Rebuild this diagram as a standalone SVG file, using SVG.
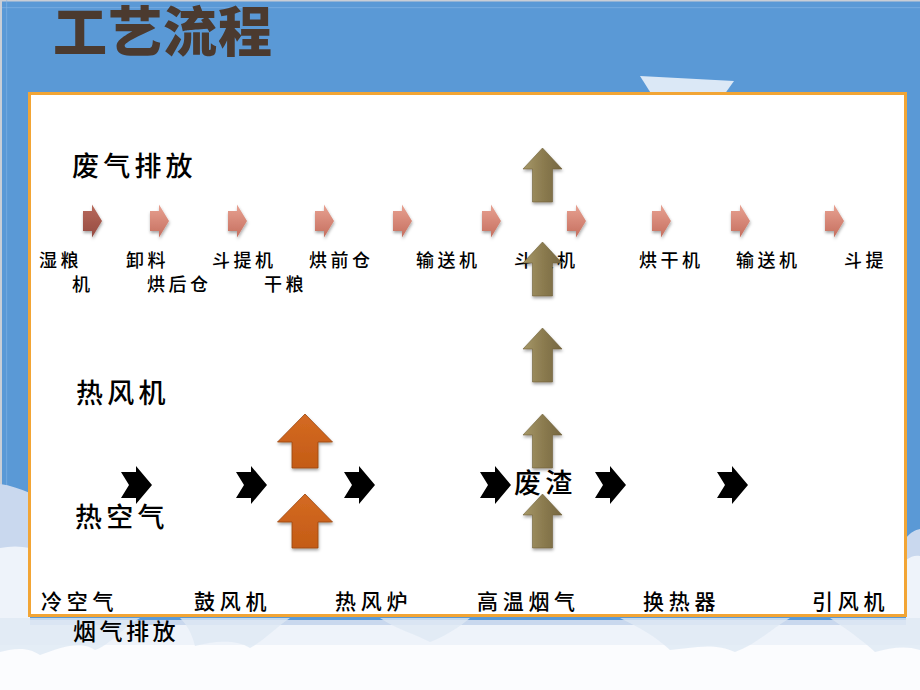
<svg xmlns="http://www.w3.org/2000/svg" width="920" height="690" viewBox="0 0 920 690">
<defs>
<style>
.lbl{font-family:'Noto Sans CJK SC','Noto Sans',sans-serif;fill:#000;font-weight:500;}
.s1{font-size:18px;letter-spacing:3.5px;}
.s2{font-size:27px;letter-spacing:4.2px;}
.s3{font-size:21px;letter-spacing:4.7px;}
.s4{font-size:23px;letter-spacing:3.5px;}
.title{font-family:'Noto Sans CJK SC','Noto Sans',sans-serif;font-size:54px;font-weight:900;fill:#4b3a2f;letter-spacing:1px;}
.pk{fill:url(#gPink);filter:url(#sh);}
.pk0{fill:url(#gPink0);filter:url(#sh);}
.bk{fill:#000;}
.ol{fill:url(#gOlive);stroke:#6e6038;stroke-width:0.6;filter:url(#sh);}
.or{fill:url(#gOrange);stroke:#9a4610;stroke-width:0.8;filter:url(#sh);}
.cl{fill:#dfe8f4;opacity:0.8;}
</style>
<linearGradient id="gPink" x1="0" y1="0" x2="0" y2="1"><stop offset="0" stop-color="#e8a292"/><stop offset="1" stop-color="#c56e5e"/></linearGradient>
<linearGradient id="gPink0" x1="0" y1="0" x2="0" y2="1"><stop offset="0" stop-color="#b86a5c"/><stop offset="1" stop-color="#954a40"/></linearGradient>
<linearGradient id="gOlive" x1="0" y1="0" x2="1" y2="0"><stop offset="0" stop-color="#a69868"/><stop offset="0.5" stop-color="#8c7c50"/><stop offset="1" stop-color="#756640"/></linearGradient>
<linearGradient id="gOrange" x1="0" y1="0" x2="0" y2="1"><stop offset="0" stop-color="#d46a22"/><stop offset="1" stop-color="#c45c16"/></linearGradient>
<filter id="sh" x="-40%" y="-30%" width="180%" height="170%"><feDropShadow dx="0.5" dy="2" stdDeviation="1.5" flood-color="#000" flood-opacity="0.35"/></filter>
<path id="pink" d="M0,-10 H9 V-16.5 L19,0 L9,16.5 V10 H0 Z"/>
<path id="blk" d="M0,6 H15 V0 L31,19 L15,38 V32 H0 L8,19 Z"/>
<path id="olive" d="M0,0 L19.5,21 H10 V54 H-10 V21 H-19.5 Z"/>
<path id="orng" d="M0,0 L27.5,28 H13 V54 H-13 V28 H-27.5 Z"/>
</defs>

<g id="background">
<rect x="0" y="0" width="920" height="690" fill="#5a99d6"/>
<rect x="0" y="0" width="920" height="1.5" fill="#c9ced6"/>
<rect x="0" y="7" width="920" height="1.2" fill="#7fb2e4" opacity="0.6"/>
<rect x="0" y="0" width="2" height="690" fill="#c9ced6"/>
<rect x="6" y="0" width="1.2" height="690" fill="#86b6e6" opacity="0.5"/>
<path d="M0,484 C10,485 20,489 30,493 L30,620 L906,620 L906,538 C911,532 915,530 920,529 L920,690 L0,690 Z" fill="#c9d8ee"/>
<path d="M0,548 C10,546 20,546 30,548 L30,625 L906,625 L906,560 C911,556 916,555 920,556 L920,690 L0,690 Z" fill="#eef3fa"/>
<rect x="0" y="645" width="920" height="45" fill="#fbfcfe"/>
<path class="cl" d="M0,618 H140 C120,630 110,645 95,650 C80,640 60,648 40,655 C25,645 10,650 0,652 Z"/>
<path class="cl" d="M180,618 H290 C275,628 265,640 250,648 C235,638 210,642 195,646 C192,634 188,626 180,618 Z"/>
<path class="cl" d="M380,618 H470 C458,628 445,636 430,642 C415,634 398,630 380,618 Z"/>
<path class="cl" d="M620,618 H790 C770,630 755,645 735,652 C715,642 690,648 670,650 C655,636 640,628 620,618 Z"/>
<path class="cl" d="M830,618 H920 V650 C905,645 890,648 875,652 C862,640 848,630 830,618 Z"/>
<polygon points="640,76 734,81 724,95 652,95" fill="#dbe8f6"/>
</g>

<g id="panel">
<rect x="29.5" y="93.5" width="876" height="522" fill="#ffffff" stroke="#f2a535" stroke-width="3"/>
</g>

<g id="title"><text class="title" x="53" y="52">工艺流程</text></g>

<g id="n-feiqi-paifang"><text class="lbl s2" x="72" y="176">废气排放</text></g>
<g id="n-shiliangji"><text class="lbl s1" x="39" y="267">湿粮</text><text class="lbl s1" x="72" y="291">机</text></g>
<g id="n-xieliao"><text class="lbl s1" x="126" y="267">卸料</text></g>
<g id="n-honghoucang"><text class="lbl s1" x="147" y="291">烘后仓</text></g>
<g id="n-doutiji-1"><text class="lbl s1" x="212" y="267">斗提机</text></g>
<g id="n-ganliang"><text class="lbl s1" x="264" y="291">干粮</text></g>
<g id="n-hongqiancang"><text class="lbl s1" x="309" y="267">烘前仓</text></g>
<g id="n-shusongji-1"><text class="lbl s1" x="416" y="267">输送机</text></g>
<g id="n-doutiji-2"><text class="lbl s1" x="514" y="267">斗提机</text></g>
<g id="n-honganji"><text class="lbl s1" x="639" y="267">烘干机</text></g>
<g id="n-shusongji-2"><text class="lbl s1" x="736" y="267">输送机</text></g>
<g id="n-douti-3"><text class="lbl s1" x="844" y="267">斗提</text></g>
<g id="n-refengji"><text class="lbl s2" x="76" y="403">热风机</text></g>
<g id="n-rekongqi"><text class="lbl s2" x="75" y="527">热空气</text></g>
<g id="n-feizha"><text class="lbl s2" x="514" y="493">废渣</text></g>
<g id="n-lengkongqi"><text class="lbl s3" x="41" y="609">冷空气</text></g>
<g id="n-gufengji"><text class="lbl s3" x="194" y="609">鼓风机</text></g>
<g id="n-refenglu"><text class="lbl s3" x="335" y="609">热风炉</text></g>
<g id="n-gaowenyanqi"><text class="lbl s3" x="477" y="609">高温烟气</text></g>
<g id="n-huanreqi"><text class="lbl s3" x="643" y="609">换热器</text></g>
<g id="n-yinfengji"><text class="lbl s3" x="812" y="609">引风机</text></g>
<g id="n-yanqi-paifang"><text class="lbl s4" x="73" y="640">烟气排放</text></g>

<g id="connectors">
<use href="#pink" class="pk0" transform="translate(83,221)"/>
<use href="#pink" class="pk" transform="translate(150,221)"/>
<use href="#pink" class="pk" transform="translate(228,221)"/>
<use href="#pink" class="pk" transform="translate(315,221)"/>
<use href="#pink" class="pk" transform="translate(393,221)"/>
<use href="#pink" class="pk" transform="translate(482,221)"/>
<use href="#pink" class="pk" transform="translate(567,221)"/>
<use href="#pink" class="pk" transform="translate(652,221)"/>
<use href="#pink" class="pk" transform="translate(731,221)"/>
<use href="#pink" class="pk" transform="translate(825,221)"/>

<use href="#blk" class="bk" transform="translate(121,466)"/>
<use href="#blk" class="bk" transform="translate(236,466)"/>
<use href="#blk" class="bk" transform="translate(344,466)"/>
<use href="#blk" class="bk" transform="translate(480,466)"/>
<use href="#blk" class="bk" transform="translate(595,466)"/>
<use href="#blk" class="bk" transform="translate(717,466)"/>

<use href="#olive" class="ol" transform="translate(542.5,148)"/>
<use href="#olive" class="ol" transform="translate(542.5,242)"/>
<use href="#olive" class="ol" transform="translate(542.5,328)"/>
<use href="#olive" class="ol" transform="translate(542.5,414)"/>
<use href="#olive" class="ol" transform="translate(542.5,494)"/>

<use href="#orng" class="or" transform="translate(305,414)"/>
<use href="#orng" class="or" transform="translate(305,494)"/>
</g>
</svg>
